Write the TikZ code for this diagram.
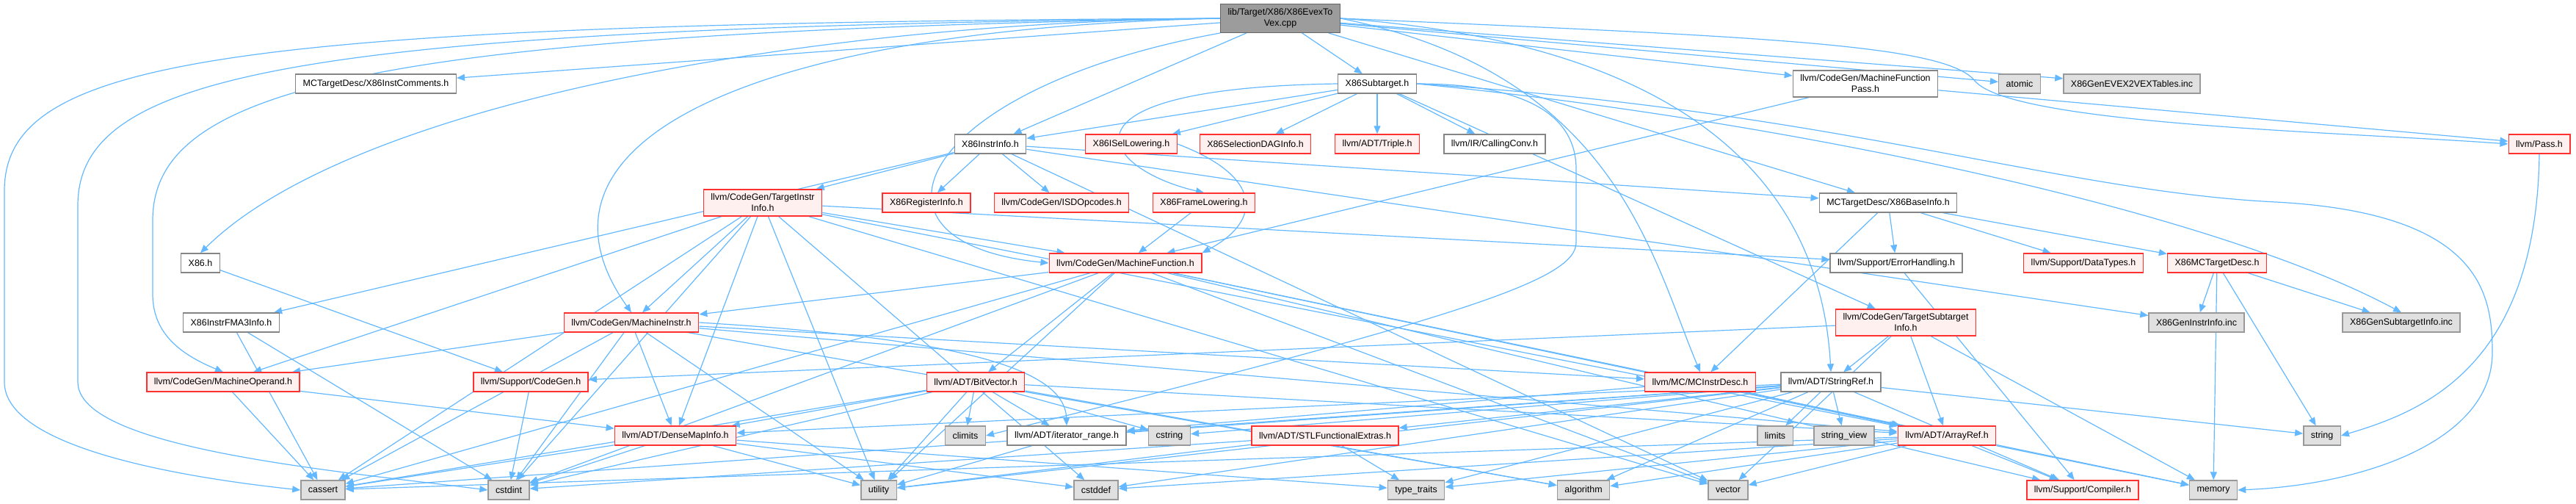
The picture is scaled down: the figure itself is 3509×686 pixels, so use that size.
\documentclass[tikz,border=0pt]{standalone}
\usepackage{fontspec}
\setmainfont{Liberation Sans}
\usetikzlibrary{arrows.meta,backgrounds}
\definecolor{cedge}{HTML}{63B8FF}
\definecolor{cred}{HTML}{FF3030}
\definecolor{credfill}{HTML}{FFF0F0}
\definecolor{csys}{HTML}{E0E0E0}
\definecolor{cline}{HTML}{999999}
\definecolor{croot}{HTML}{9C9C9C}
\definecolor{crootline}{HTML}{666666}
\tikzset{
  file/.style={draw=cline, fill=white, line width=1.4bp, minimum height=26bp, inner xsep=10bp, inner ysep=6bp, font=\fontsize{12.5}{15}\selectfont, align=center},
  hdr/.style={file, draw=crootline!80},
  trunc/.style={file, draw=cred, fill=credfill},
  sys/.style={file, fill=csys},
  rootf/.style={file, fill=croot, draw=crootline},
  inc/.style={-{Stealth[length=11bp,width=9bp,inset=0pt]}, draw=cedge, line width=1.2bp},
}

\begin{document}
\begin{tikzpicture}[x=1bp,y=-1bp]
\useasboundingbox (0,0) rectangle (3509,686);
% row 1-2
\node[rootf] (root) at (1744,25) {lib/Target/X86/X86EvexTo\\Vex.cpp};
\node[hdr] (ic) at (512,114) {MCTargetDesc/X86InstComments.h};
\node[hdr] (st) at (1876,114) {X86Subtarget.h};
\node[hdr] (mfp) at (2541,114) {llvm/CodeGen/MachineFunction\\Pass.h};
\node[sys] (atomic) at (2751,114) {atomic};
\node[sys] (evex) at (2904,114) {X86GenEVEX2VEXTables.inc};
% row 3
\node[hdr] (ii) at (1349,196) {X86InstrInfo.h};
\node[trunc] (isel) at (1541,196) {X86ISelLowering.h};
\node[trunc] (sdag) at (1710,196) {X86SelectionDAGInfo.h};
\node[trunc] (triple) at (1876,196) {llvm/ADT/Triple.h};
\node[hdr] (cconv) at (2036,196) {llvm/IR/CallingConv.h};
\node[trunc] (pass) at (3459,196) {llvm/Pass.h};
% row 4
\node[trunc] (tii) at (1039,276) {llvm/CodeGen/TargetInstr\\Info.h};
\node[trunc] (reg) at (1262,276) {X86RegisterInfo.h};
\node[trunc] (isd) at (1446,276) {llvm/CodeGen/ISDOpcodes.h};
\node[trunc] (fl) at (1640,276) {X86FrameLowering.h};
\node[hdr] (bi) at (2572,276) {MCTargetDesc/X86BaseInfo.h};
% row 5
\node[hdr] (x86h) at (273,358) {X86.h};
\node[trunc] (mf) at (1533,358) {llvm/CodeGen/MachineFunction.h};
\node[hdr] (errh) at (2583,358) {llvm/Support/ErrorHandling.h};
\node[trunc] (dtypes) at (2838,358) {llvm/Support/DataTypes.h};
\node[trunc] (mcdesc) at (3020,358) {X86MCTargetDesc.h};
% row 6
\node[hdr] (fma) at (315,439) {X86InstrFMA3Info.h};
\node[trunc] (mi) at (860,439) {llvm/CodeGen/MachineInstr.h};
\node[trunc] (tsi) at (2596,439) {llvm/CodeGen/TargetSubtarget\\Info.h};
\node[sys] (genii) at (2992,439) {X86GenInstrInfo.inc};
\node[sys] (gensti) at (3271,439) {X86GenSubtargetInfo.inc};
% row 7
\node[trunc] (mo) at (304,520) {llvm/CodeGen/MachineOperand.h};
\node[trunc] (cg) at (723,520) {llvm/Support/CodeGen.h};
\node[trunc] (bv) at (1329,520) {llvm/ADT/BitVector.h};
\node[trunc] (mcid) at (2316,520) {llvm/MC/MCInstrDesc.h};
\node[hdr] (sr) at (2494,520) {llvm/ADT/StringRef.h};
% row 8
\node[trunc] (dmi) at (920,593) {llvm/ADT/DenseMapInfo.h};
\node[sys] (climits) at (1315,593) {climits};
\node[hdr] (itr) at (1453,593) {llvm/ADT/iterator\_range.h};
\node[sys] (cstring) at (1593,593) {cstring};
\node[trunc] (stl) at (1805,593) {llvm/ADT/STLFunctionalExtras.h};
\node[sys] (limits) at (2418,593) {limits};
\node[sys] (sv) at (2512,593) {string\_view};
\node[trunc] (arr) at (2652,593) {llvm/ADT/ArrayRef.h};
\node[sys] (string) at (3163,593) {string};
% row 9
\node[sys] (cassert) at (440,667) {cassert};
\node[sys] (cstdint) at (693,667) {cstdint};
\node[sys] (utility) at (1197,667) {utility};
\node[sys] (cstddef) at (1493,667) {cstddef};
\node[sys] (tt) at (1929,667) {type\_traits};
\node[sys] (algo) at (2157,667) {algorithm};
\node[sys] (vector) at (2354,667) {vector};
\node[trunc] (compiler) at (2837,667) {llvm/Support/Compiler.h};
\node[sys] (memory) at (3015,667) {memory};

\begin{scope}[on background layer]
% the .cpp file
\draw[inc] (root.west) .. controls (300,32) and (6,80) .. (6,260) -- (6,520) .. controls (6,610) and (250,650) .. (cassert.west);
\draw[inc] (root.west) .. controls (400,38) and (106,100) .. (106,280) -- (106,520) .. controls (106,610) and (450,640) .. (cstdint.west);
\draw[inc] (root.west) .. controls (500,44) and (208,120) .. (208,300) -- (208,400) .. controls (208,450) and (240,480) .. (mo.north);
\draw[inc] (root) -- (ic); \draw[inc] (root.west) .. controls (1100,30) and (480,140) .. (x86h.north);
\draw[inc] (root.west) .. controls (1000,40) and (700,200) .. (mi.north);
\draw[inc] (root.south west) .. controls (1250,120) and (1150,330) .. (mf.west);
\draw[inc] (root) -- (ii); \draw[inc] (root) -- (st); \draw[inc] (root) -- (mfp);
\draw[inc] (root) -- (atomic); \draw[inc] (root) -- (evex);
\draw[inc] (root.east) .. controls (2400,50) and (2650,60) .. (2690,110) .. controls (2740,170) and (3200,180) .. (pass.west);
\draw[inc] (root) -- (bi); \draw[inc] (root.east) .. controls (2200,100) and (2250,350) .. (mcid.north);
\draw[inc] (root.east) .. controls (2300,60) and (2480,250) .. (sr.north);
% X86Subtarget.h
\draw[inc] (st) -- (ii); \draw[inc] (st) -- (isel); \draw[inc] (st) -- (sdag);
\draw[inc] (st) -- (triple); \draw[inc] (st) -- (cconv);
\draw[inc] (st.west) .. controls (1420,120) and (1500,230) .. (fl.north);
\draw[inc] (st) -- (tsi); \draw[inc] (st.east) .. controls (2400,160) and (3000,280) .. (gensti.north);
\draw[inc] (st.east) .. controls (2100,114) and (2147,170) .. (2147,230) -- (2147,330) .. controls (2147,380) and (2000,430) .. (climits.east);
\draw[inc] (st.east) .. controls (2500,150) and (2800,260) .. (3100,275) .. controls (3380,290) and (3395,400) .. (3395,480) .. controls (3395,600) and (3220,660) .. (memory.east);
% X86InstrInfo.h
\draw[inc] (ii) -- (tii); \draw[inc] (ii) -- (fma); \draw[inc] (ii) -- (reg); \draw[inc] (ii) -- (isd);
\draw[inc] (ii) -- (bi); \draw[inc] (ii) -- (genii); \draw[inc] (ii) -- (vector);
\draw[inc] (isel.east) .. controls (1720,240) and (1720,300) .. (mf.north east); \draw[inc] (fl) -- (mf);
\draw[inc] (mfp) -- (mf); \draw[inc] (mfp) -- (pass);
\draw[inc] (pass.south) .. controls (3455,500) and (3300,560) .. (string.east);
% X86BaseInfo.h and below
\draw[inc] (bi) -- (errh); \draw[inc] (bi) -- (mcdesc); \draw[inc] (bi) -- (dtypes); \draw[inc] (bi) -- (mcid);
\draw[inc] (mcdesc) -- (genii); \draw[inc] (mcdesc) -- (gensti); \draw[inc] (mcdesc) -- (string); \draw[inc] (mcdesc) -- (memory);
\draw[inc] (errh) -- (compiler);
\draw[inc] (x86h) -- (cg);
\draw[inc] (fma) -- (cassert); \draw[inc] (fma) -- (cstdint);
% TargetInstrInfo.h
\draw[inc] (tii) -- (mf); \draw[inc] (tii) -- (mi); \draw[inc] (tii) -- (mo); \draw[inc] (tii) -- (dmi);
\draw[inc] (tii) -- (arr); \draw[inc] (tii) -- (errh); \draw[inc] (tii) -- (cassert); \draw[inc] (tii) -- (cstddef);
\draw[inc] (tii) -- (cstdint); \draw[inc] (tii) -- (utility); \draw[inc] (tii) -- (vector);
% MachineFunction.h
\draw[inc] (mf) -- (mi); \draw[inc] (mf) -- (bv); \draw[inc] (mf) -- (arr); \draw[inc] (mf) -- (compiler);
\draw[inc] (mf) -- (cassert); \draw[inc] (mf) -- (cstdint); \draw[inc] (mf) -- (memory);
\draw[inc] (mf) -- (utility); \draw[inc] (mf) -- (vector);
% MachineInstr.h
\draw[inc] (mi) -- (mo); \draw[inc] (mi) -- (dmi); \draw[inc] (mi.east) .. controls (1300,460) and (1450,500) .. (itr.north); \draw[inc] (mi) -- (mcid);
\draw[inc] (mi) -- (arr); \draw[inc] (mi) -- (algo); \draw[inc] (mi) -- (cassert); \draw[inc] (mi) -- (cstdint);
\draw[inc] (mi) -- (utility);
\draw[inc] (mo) -- (dmi); \draw[inc] (mo) -- (cassert);
% TargetSubtargetInfo.h
\draw[inc] (tsi) -- (sr); \draw[inc] (tsi) -- (arr); \draw[inc] (tsi) -- (cg);
\draw[inc] (tsi) -- (memory); \draw[inc] (tsi) -- (vector);
% BitVector.h
\draw[inc] (bv) -- (dmi); \draw[inc] (bv) -- (climits); \draw[inc] (bv) -- (itr); \draw[inc] (bv) -- (cstring);
\draw[inc] (bv) -- (utility); \draw[inc] (bv) -- (arr); \draw[inc] (bv) -- (algo);
\draw[inc] (bv) -- (cassert); \draw[inc] (bv) -- (cstdint);
\draw[inc] (mcid) -- (arr); \draw[inc] (mcid) -- (itr);
% StringRef.h
\draw[inc] (sr) -- (dmi); \draw[inc] (sr) -- (stl); \draw[inc] (sr) -- (itr); \draw[inc] (sr) -- (compiler);
\draw[inc] (sr) -- (algo); \draw[inc] (sr) -- (cassert); \draw[inc] (sr) -- (cstddef); \draw[inc] (sr) -- (cstring);
\draw[inc] (sr) -- (limits); \draw[inc] (sr) -- (string); \draw[inc] (sr) -- (sv); \draw[inc] (sr) -- (tt);
\draw[inc] (sr) -- (utility);
\draw[inc] (cg) -- (cstdint);
% bottom rows
\draw[inc] (dmi) -- (cassert); \draw[inc] (dmi) -- (cstddef); \draw[inc] (dmi) -- (cstdint);
\draw[inc] (dmi) -- (tt); \draw[inc] (dmi) -- (utility);
\draw[inc] (itr) -- (utility);
\draw[inc] (stl) -- (cstdint); \draw[inc] (stl) -- (tt); \draw[inc] (stl) -- (utility);
\draw[inc] (arr) -- (compiler); \draw[inc] (arr) -- (algo); \draw[inc] (arr) -- (cassert); \draw[inc] (arr) -- (cstddef);
\draw[inc] (arr) -- (memory); \draw[inc] (arr) -- (tt); \draw[inc] (arr) -- (vector);
\end{scope}
\end{tikzpicture}
\end{document}
